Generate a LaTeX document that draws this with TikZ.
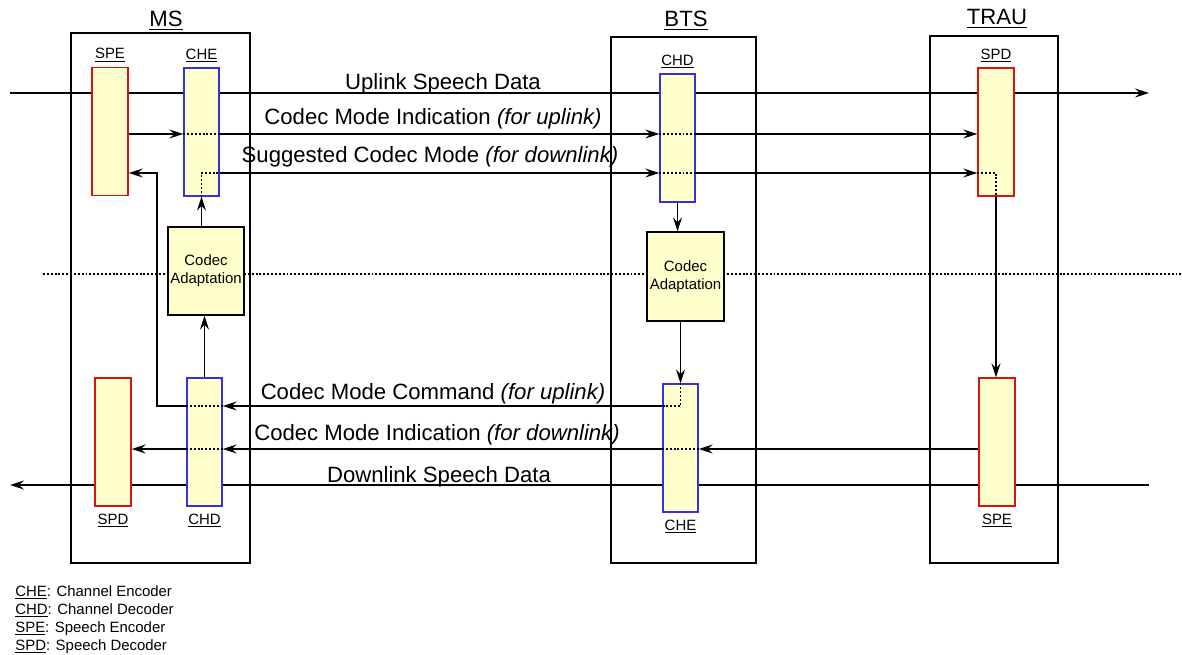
\documentclass[tikz,border=0pt]{standalone}
\usepackage{fontspec}
\setmainfont{Liberation Sans}
\usetikzlibrary{positioning,arrows.meta}
\definecolor{padyellow}{HTML}{FFFFCC}
\definecolor{encred}{HTML}{DD1111}
\definecolor{encblue}{HTML}{3333DD}

\begin{document}
\begin{tikzpicture}[x=0.02cm, y=-0.02cm,
    arr/.style={-{Stealth[length=2.8mm,width=1.8mm,inset=1mm]}, line width=0.8pt},
    dot/.style={line width=0.9pt, dash pattern=on 1.1pt off 1.1pt},
    big/.style={font=\fontsize{12.6}{15}\selectfont, inner sep=0pt},
    sml/.style={font=\fontsize{8.5}{10.2}\selectfont, inner sep=1pt},
    unit/.style={draw, line width=0.8pt, inner sep=0pt},
    spbox/.style={draw=encred, fill=padyellow, line width=0.8pt, minimum width=0.72cm, minimum height=2.56cm, inner sep=0pt},
    chbox/.style={draw=encblue, fill=padyellow, line width=0.8pt, minimum width=0.7cm, minimum height=2.56cm, inner sep=0pt},
    adapt/.style={draw, fill=padyellow, line width=0.8pt, minimum width=1.52cm, minimum height=1.76cm, inner sep=0pt, align=center, font=\fontsize{8.5}{10.2}\selectfont}]
    \useasboundingbox (0,0) rectangle (1182,655);

    % rows and free ends
    \coordinate (spin) at (10,93);
    \coordinate (spout) at (1149,93);
    \coordinate (dlin) at (1149,485);
    \coordinate (dlout) at (10,485);
    \coordinate (sepl) at (43,274);
    \coordinate (sepr) at (1182,274);
    \coordinate (cmiu) at (0,134);
    \coordinate (scm) at (0,173);
    \coordinate (cmc) at (0,406);
    \coordinate (cmid) at (0,449);
    \coordinate (fbk) at (157,0);

    % speech data and separator, behind the boxes
    \draw[arr] (spin) -- (spout);
    \draw[arr] (dlin) -- (dlout);
    \draw[dot] (sepl) -- (sepr);

    % entities
    \node[unit, minimum width=3.58cm, minimum height=10.6cm] (ms) at (160.5,298) {};
    \node[unit, minimum width=2.9cm, minimum height=10.52cm] (bts) at (683.5,300) {};
    \node[unit, minimum width=2.56cm, minimum height=10.54cm] (trau) at (994,299.5) {};
    \node[big, anchor=base] (mslbl) at (166,27) {\underline{MS}};
    \node[big, anchor=base] (btslbl) at (686,27) {\underline{BTS}};
    \node[big, anchor=base] (traulbl) at (997,25) {\underline{TRAU}};

    % coders
    \node[spbox] (spem) at (110,131.5) {};
    \node[chbox] (chem) at (201.5,132) {};
    \node[spbox] (spdm) at (113,442) {};
    \node[chbox] (chdm) at (204.5,442) {};
    \node[chbox] (chdb) at (677.5,138) {};
    \node[chbox] (cheb) at (680.5,448) {};
    \node[spbox] (spdt) at (996,132) {};
    \node[spbox] (spet) at (997,442) {};
    \node[adapt] (cam) at (206,271) {Codec\\Adaptation};
    \node[adapt, minimum width=1.54cm, minimum height=1.78cm] (cab) at (685.5,276.5) {Codec\\Adaptation};

    \node[sml, above=0.05cm of spem] (spemlbl) {\underline{SPE}};
    \node[sml, above=0.05cm of chem] (chemlbl) {\underline{CHE}};
    \node[sml, above=0.05cm of chdb] (chdblbl) {\underline{CHD}};
    \node[sml, above=0.05cm of spdt] (spdtlbl) {\underline{SPD}};
    \node[sml, below=0.1cm of spdm] (spdmlbl) {\underline{SPD}};
    \node[sml, below=0.1cm of chdm] (chdmlbl) {\underline{CHD}};
    \node[sml, below=0.1cm of cheb] (cheblbl) {\underline{CHE}};
    \node[sml, below=0.1cm of spet] (spetlbl) {\underline{SPE}};

    % link labels
    \node[big, anchor=base] (ulsd) at (443,90) {Uplink Speech Data};
    \node[big, anchor=base] (cmiulbl) at (433,125) {Codec Mode Indication \textit{(for uplink)}};
    \node[big, anchor=base] (scmlbl) at (430,163) {Suggested Codec Mode \textit{(for downlink)}};
    \node[big, anchor=base] (cmclbl) at (433,399) {Codec Mode Command \textit{(for uplink)}};
    \node[big, anchor=base] (cmidlbl) at (437,440) {Codec Mode Indication \textit{(for downlink)}};
    \node[big, anchor=base] (dlsd) at (439,482) {Downlink Speech Data};

    % codec mode indication, uplink
    \draw[arr] (spem.east |- cmiu) -- (chem.west |- cmiu);
    \draw[dot] (chem.west |- cmiu) -- (chem.east |- cmiu);
    \draw[arr] (chem.east |- cmiu) -- (chdb.west |- cmiu);
    \draw[dot] (chdb.west |- cmiu) -- (chdb.east |- cmiu);
    \draw[arr] (chdb.east |- cmiu) -- (spdt.west |- cmiu);

    % suggested codec mode
    \draw[arr] (chem.south |- cam.north) -- (chem.south);
    \draw[dot] (chem.south) -- (chem.south |- scm) -- (chem.east |- scm);
    \draw[arr] (chem.east |- scm) -- (chdb.west |- scm);
    \draw[dot] (chdb.west |- scm) -- (chdb.east |- scm);
    \draw[arr] (chdb.east |- scm) -- (spdt.west |- scm);
    \draw[dot] (spdt.west |- scm) -- (spdt.south |- scm) -- (spdt.south);
    \draw[arr] (spdt.south) -- (spdt.south |- spet.north);
    \draw[arr] (chdb.south) -- (chdb.south |- cab.north);

    % codec mode command
    \draw[arr] (cheb.north |- cab.south) -- (cheb.north);
    \draw[dot] (cheb.north) -- (cheb.north |- cmc) -- (cheb.west |- cmc);
    \draw[arr] (cheb.west |- cmc) -- (chdm.east |- cmc);
    \draw[dot] (chdm.east |- cmc) -- (chdm.west |- cmc);
    \draw[arr] (chdm.west |- cmc) -| (fbk |- scm) -- (spem.east |- scm);
    \draw[arr] (chdm.north) -- (chdm.north |- cam.south);

    % codec mode indication, downlink
    \draw[arr] (spet.west |- cmid) -- (cheb.east |- cmid);
    \draw[dot] (cheb.east |- cmid) -- (cheb.west |- cmid);
    \draw[arr] (cheb.west |- cmid) -- (chdm.east |- cmid);
    \draw[dot] (chdm.east |- cmid) -- (chdm.west |- cmid);
    \draw[arr] (chdm.west |- cmid) -- (spdm.east |- cmid);

    % legend
    \node[sml, anchor=base west, inner sep=0pt] (lg1) at (15,596) {\underline{CHE}: Channel Encoder};
    \node[sml, anchor=base west, inner sep=0pt] (lg2) at (15,614) {\underline{CHD}: Channel Decoder};
    \node[sml, anchor=base west, inner sep=0pt] (lg3) at (15,632) {\underline{SPE}: Speech Encoder};
    \node[sml, anchor=base west, inner sep=0pt] (lg4) at (15,650) {\underline{SPD}: Speech Decoder};
\end{tikzpicture}
\end{document}
